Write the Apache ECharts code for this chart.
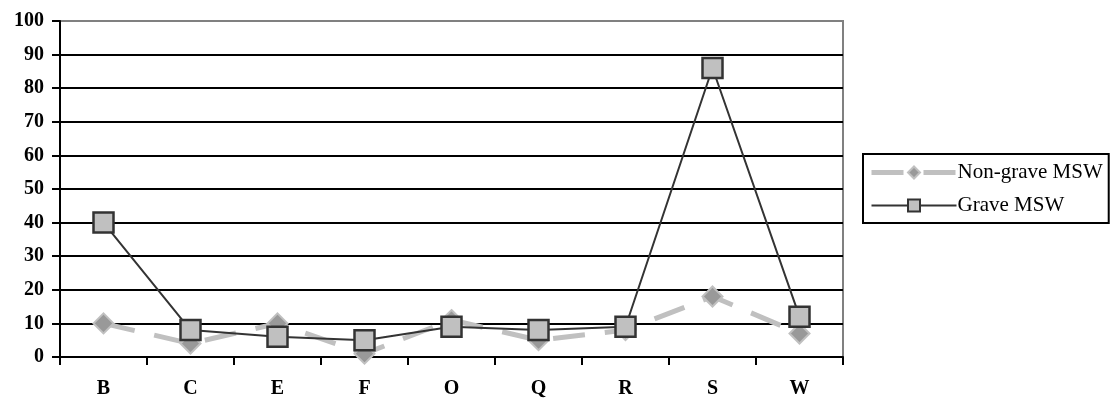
<!DOCTYPE html>
<html>
<head>
<meta charset="utf-8">
<script src="https://cdn.jsdelivr.net/npm/echarts@6/dist/echarts.min.js"></script>
<style>
  html, body { margin: 0; padding: 0; background: #fff; }
  #chart { width: 1110px; height: 401px; }
</style>
</head>
<body>
<div id="chart"></div>
<script>
// Waste categories and percentages for the two MSW groups
const categories = ['B', 'C', 'E', 'F', 'O', 'Q', 'R', 'S', 'W'];
const nonGraveMSW = [10, 4, 10, 1, 11, 5, 8, 18, 7];
const graveMSW = [40, 8, 6, 5, 9, 8, 9, 86, 12];
const yTicks = [0, 10, 20, 30, 40, 50, 60, 70, 80, 90, 100];

const serif = '"Liberation Serif", "Times New Roman", serif';
const nonGraveLine = { color: '#c0c0c0', width: 5, type: [32, 20] };

const chart = echarts.init(document.getElementById('chart'), null, { renderer: 'canvas' });

chart.setOption({
  animation: false,
  backgroundColor: '#fff',
  grid: { left: 60, right: 267, top: 21, bottom: 44, show: true, borderColor: '#808080', borderWidth: 2, backgroundColor: 'transparent' },
  legend: {
    orient: 'vertical',
    left: 863,
    top: 154,
    width: 245,
    padding: [8, 6, 7, 6],
    itemGap: 12,
    itemWidth: 85,
    itemHeight: 15,
    borderColor: '#000',
    borderWidth: 2,
    textStyle: { fontFamily: serif, fontSize: 21, color: '#000', padding: [0, 0, 0, -4] },
    data: [
      { name: 'Non-grave MSW', lineStyle: nonGraveLine },
      { name: 'Grave MSW', lineStyle: { color: '#333', width: 2 } }
    ]
  },
  xAxis: {
    type: 'category',
    data: categories,
    boundaryGap: true,
    axisLine: { lineStyle: { color: '#000', width: 2 } },
    axisTick: { show: true, length: 8, inside: false, lineStyle: { color: '#000', width: 2 } },
    axisLabel: { fontFamily: serif, fontWeight: 'bold', fontSize: 20, color: '#000', margin: 22 },
    splitLine: { show: false }
  },
  yAxis: {
    type: 'value',
    min: yTicks[0],
    max: yTicks[yTicks.length - 1],
    interval: 10,
    axisLine: { show: true, lineStyle: { color: '#000', width: 2 } },
    axisTick: { show: true, length: 8, lineStyle: { color: '#000', width: 2 } },
    axisLabel: { fontFamily: serif, fontWeight: 'bold', fontSize: 20, color: '#000', margin: 16 },
    splitLine: { show: true, showMaxLine: false, lineStyle: { color: '#000', width: 2 } }
  },
  series: [
    {
      name: 'Non-grave MSW',
      type: 'line',
      data: nonGraveMSW,
      symbol: 'diamond',
      symbolSize: 20,
      z: 2,
      lineStyle: nonGraveLine,
      itemStyle: { color: '#999999', borderColor: '#c0c0c0', borderWidth: 2 }
    },
    {
      name: 'Grave MSW',
      type: 'line',
      data: graveMSW,
      symbol: 'rect',
      symbolSize: 20,
      z: 3,
      lineStyle: { color: '#333', width: 2 },
      itemStyle: { color: '#c0c0c0', borderColor: '#333', borderWidth: 2.5 }
    }
  ]
});
</script>
</body>
</html>
